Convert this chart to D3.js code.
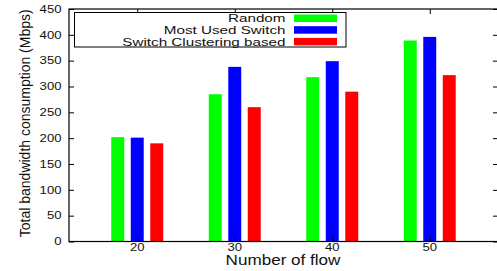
<!DOCTYPE html>
<html><head><meta charset="utf-8">
<script src="https://cdn.jsdelivr.net/npm/d3@7"></script>
<style>body{margin:0;background:#fff;} svg{display:block;font-family:"Liberation Sans",Arial,sans-serif;}</style>
</head><body>
<svg id="c" width="497" height="271"></svg>
<script>
const categories = [20, 30, 40, 50];
const seriesNames = ["Random", "Most Used Switch", "Switch Clustering based"];
const randomVals = [202, 285, 318, 389];
const mostUsedVals = [201, 338, 349, 396];
const clusterVals = [190, 260, 290, 322];
const yTicks = [0, 50, 100, 150, 200, 250, 300, 350, 400, 450];
const colors = ["#00ff00", "#0000ff", "#ff0000"];

const series = [randomVals, mostUsedVals, clusterVals];
const svg = d3.select("#c");
const L = 69, R = 498, T = 9, B = 241.5;
const x = d3.scaleLinear().domain([13, 57]).range([L, R]);
const y = d3.scaleLinear().domain([0, 450]).range([B, T]);
const offset = 2, bw = 1.33;

// stretched text helper (reference is horizontally stretched)
function stext(g, ax, ay, str, size, sx, anchor, extra) {
  return g.append("text")
    .attr("transform", `translate(${ax},${ay}) scale(${sx},1)` + (extra || ""))
    .attr("text-anchor", anchor).attr("font-size", size).attr("fill", "#111").text(str);
}

// bars
series.forEach((vals, si) => {
  svg.append("g").selectAll("rect").data(vals).join("rect")
    .attr("x", (d, i) => x(categories[i] + (si - 1) * offset - bw / 2))
    .attr("width", (d, i) => x(categories[i] + bw / 2) - x(categories[i] - bw / 2))
    .attr("y", d => y(d))
    .attr("height", d => B - y(d))
    .attr("fill", colors[si]);
});

// axes (ticks inward on all four sides)
const tl = 5;
const axL = svg.append("g").attr("transform", `translate(${L},0)`)
  .call(d3.axisLeft(y).tickValues(yTicks).tickSize(-tl));
const axR = svg.append("g").attr("transform", `translate(${R},0)`)
  .call(d3.axisRight(y).tickValues(yTicks).tickSize(-tl));
const axB = svg.append("g").attr("transform", `translate(0,${B})`)
  .call(d3.axisBottom(x).tickValues(categories).tickSize(-tl));
const axT = svg.append("g").attr("transform", `translate(0,${T})`)
  .call(d3.axisTop(x).tickValues(categories).tickSize(-tl));
[axL, axR, axB, axT].forEach(a => {
  a.select(".domain").remove();
  a.selectAll("text").remove();
  a.selectAll("line").attr("stroke", "#000");
});
svg.append("rect").attr("x", L).attr("y", T).attr("width", R - L).attr("height", B - T)
  .attr("fill", "none").attr("stroke", "#000").attr("stroke-width", 1.2);

// tick labels
const tg = svg.append("g");
yTicks.forEach(v => stext(tg, 61.5, y(v) + 3.8, String(v), 10.5, 1.25, "end"));
categories.forEach(c => stext(tg, x(c), 251, String(c), 10.5, 1.25, "middle"));

// axis titles
stext(svg, (L + R) / 2 - 0.5, 265, "Number of flow", 14, 1.22, "middle");
svg.append("text").attr("transform", `translate(29.5,${(T + B) / 2 - 2}) scale(1.1,1) rotate(-90)`)
  .attr("text-anchor", "middle").attr("font-size", 14).attr("fill", "#111")
  .text("Total bandwidth consumption (Mbps)");

// legend
const lg = svg.append("g");
lg.append("rect").attr("x", 74.5).attr("y", 12.5).attr("width", 271.5).attr("height", 34.5)
  .attr("fill", "#fff").attr("stroke", "#000").attr("stroke-width", 1);
seriesNames.forEach((n, i) => {
  const cy = 18 + i * 11.7;
  stext(lg, 285.5, cy + 4.3, n, 11.8, 1.29, "end");
  lg.append("rect").attr("x", 294).attr("y", cy - 3.5).attr("width", 43).attr("height", 7.5)
    .attr("fill", colors[i]);
});
</script>
</body></html>
